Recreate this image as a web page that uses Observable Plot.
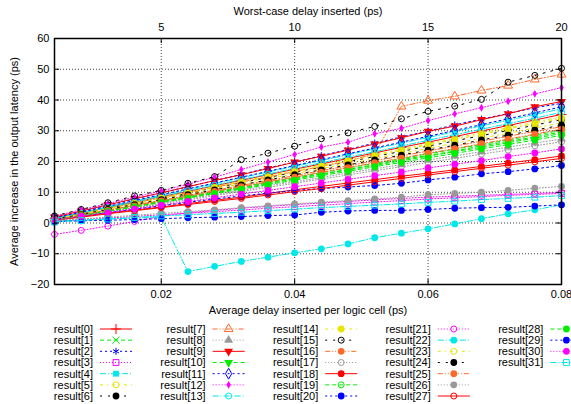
<!DOCTYPE html>
<html><head><meta charset="utf-8">
<script src="https://cdn.jsdelivr.net/npm/d3@7"></script>
<script src="https://cdn.jsdelivr.net/npm/@observablehq/plot@0.6"></script>
<style>
body{margin:0;background:#fff;font-family:"Liberation Sans",Arial,sans-serif;}
#chart{position:relative;width:571px;height:404px;background:#fff;}
</style></head><body><div id="chart"></div>
<script>
const delayPerCell = [0.004,0.008,0.012,0.016,0.020,0.024,0.028,0.032,0.036,0.040,0.044,0.048,0.052,0.056,0.060,0.064,0.068,0.072,0.076,0.080];
const result0 = [1.4,3.2,5.0,6.8,8.6,10.3,12.1,13.9,15.7,17.5,19.2,21.0,22.8,24.6,26.3,28.1,29.9,31.7,33.5,35.3];
const result1 = [1.1,2.6,4.1,5.7,7.2,8.7,10.2,11.8,13.3,14.8,16.4,17.9,19.4,20.9,22.5,24.0,25.5,27.0,28.6,30.1];
const result2 = [1.8,3.8,5.8,7.8,9.8,11.8,13.8,15.8,17.9,19.8,21.9,23.9,26.0,28.0,29.9,31.9,33.8,35.6,37.5,38.9];
const result3 = [0.5,1.1,1.6,2.1,2.7,3.2,3.7,4.2,4.8,5.3,5.8,6.3,6.8,7.3,7.8,8.2,8.6,9.0,9.3,9.6];
const result4 = [1.5,3.4,5.3,7.2,9.0,10.9,12.8,14.7,16.6,18.4,20.3,22.2,24.1,26.0,27.8,29.7,31.6,33.4,35.3,37.1];
const result5 = [1.3,3.0,4.8,6.5,8.3,10.0,11.8,13.5,15.3,17.0,18.8,20.5,22.3,24.0,25.8,27.5,29.3,31.0,32.8,34.5];
const result6 = [1.3,3.0,4.7,6.4,8.0,9.7,11.4,13.1,14.8,16.5,18.2,19.9,21.6,23.3,25.0,26.7,28.4,30.1,31.8,33.6];
const result7 = [1.4,3.1,4.8,6.5,8.2,9.9,11.6,13.3,15.0,16.7,18.4,20.1,22.5,37.9,39.8,41.2,43.1,44.7,46.7,48.3];
const result8 = [0.8,2.2,3.7,5.0,6.4,7.9,9.2,10.6,12.1,13.4,14.8,16.3,17.6,19.0,20.5,21.8,23.2,24.7,26.0,27.3];
const result9 = [1.9,3.9,5.9,7.9,9.8,11.8,13.8,15.7,17.7,19.8,21.7,23.7,25.7,27.7,29.8,31.5,33.6,35.5,37.8,39.5];
const result10 = [1.0,2.5,4.1,5.5,7.0,8.4,10.0,11.5,13.1,14.5,16.0,17.4,19.0,20.6,22.0,23.4,25.1,26.5,28.0,29.6];
const result11 = [1.6,3.5,5.4,7.3,9.2,11.1,13.0,14.9,16.8,18.7,20.6,22.5,24.4,26.3,28.2,30.1,32.0,33.9,35.8,37.8];
const result12 = [2.2,4.3,6.3,8.4,10.4,12.6,14.9,17.4,19.8,22.3,24.7,26.3,29.0,30.8,33.3,35.5,37.5,39.6,42.0,44.0];
const result13 = [1.4,3.2,5.0,6.8,8.7,10.5,12.3,14.1,15.9,17.8,19.6,21.4,23.2,25.0,26.9,28.7,30.5,32.3,34.1,36.0];
const result14 = [1.2,2.9,4.7,6.4,8.1,9.8,11.6,13.3,15.0,16.7,18.5,20.2,21.9,23.6,25.4,27.1,28.8,30.6,32.3,34.0];
const result15 = [2.3,4.4,6.6,8.8,10.6,12.9,15.1,20.6,22.7,25.0,27.4,29.3,31.4,33.9,36.3,38.0,40.2,45.8,48.0,50.3];
const result16 = [1.0,2.6,4.2,5.8,7.4,9.0,10.6,12.2,13.8,15.4,17.0,18.6,20.2,21.8,23.4,25.0,26.6,28.2,29.8,31.3];
const result17 = [0.8,2.1,3.5,4.8,6.2,7.5,8.9,10.2,11.6,12.9,14.3,15.6,17.0,18.3,19.7,21.0,22.4,23.7,25.1,26.4];
const result18 = [1.0,2.1,3.2,4.2,5.2,6.3,7.4,8.4,9.6,10.8,11.9,13.0,14.1,15.2,16.2,17.3,18.4,19.5,20.6,21.8];
const result19 = [0.9,2.4,3.9,5.4,6.9,8.3,9.8,11.3,12.8,14.3,15.8,17.2,18.7,20.2,21.7,23.2,24.6,26.1,27.6,29.1];
const result20 = [1.2,2.3,3.4,4.5,5.6,6.7,7.8,8.8,9.7,10.6,11.2,11.7,12.2,12.9,14.0,14.9,16.0,16.7,17.6,18.7];
const result21 = [-3.7,-2.4,-1.0,0.5,2.2,3.3,4.1,4.8,5.4,6.0,6.5,7.0,7.5,8.0,8.4,8.7,9.0,9.3,9.6,9.9];
const result22 = [0.6,1.0,1.3,1.6,1.9,-15.8,-14.1,-12.5,-11.1,-9.7,-8.4,-6.8,-4.8,-3.3,-1.9,-0.3,1.4,3.0,4.3,5.9];
const result23 = [1.2,2.8,4.5,6.1,7.8,9.4,11.1,12.7,14.4,16.0,17.7,19.3,21.0,22.6,24.3,25.9,27.6,29.2,30.9,32.6];
const result24 = [1.1,2.7,4.4,6.0,7.6,9.2,10.8,12.4,14.0,15.7,17.3,18.9,20.5,22.1,23.7,25.3,27.0,28.6,30.2,31.8];
const result25 = [1.0,2.5,4.1,5.6,7.2,8.7,10.3,11.8,13.4,14.9,16.5,18.0,19.6,21.1,22.7,24.2,25.8,27.3,28.9,30.5];
const result26 = [0.7,1.3,1.9,2.5,3.1,3.7,4.3,5.0,5.6,6.2,6.8,7.3,7.8,8.4,9.2,9.6,10.0,10.6,11.3,11.9];
const result27 = [0.9,1.9,3.0,4.0,5.0,6.0,7.0,8.0,9.1,10.2,11.2,12.3,13.4,14.5,15.6,16.7,17.8,18.8,19.9,21.0];
const result28 = [0.9,2.3,3.8,5.2,6.7,8.1,9.6,11.0,12.5,13.9,15.4,16.8,18.3,19.7,21.2,22.6,24.1,25.5,27.0,28.5];
const result29 = [0.5,0.7,0.9,1.1,1.4,1.7,1.9,2.1,2.4,2.6,3.5,3.9,4.1,4.1,4.4,4.8,5.0,5.1,5.5,5.9];
const result30 = [1.0,2.2,3.4,4.6,5.8,7.0,8.2,9.4,10.6,11.8,13.0,14.2,15.4,16.6,17.9,19.1,20.3,21.6,22.8,24.1];
const result31 = [0.3,0.8,1.3,1.8,2.3,2.7,3.1,3.5,4.0,4.5,5.0,5.4,5.8,6.2,6.7,7.1,7.6,8.0,8.4,8.9];

const xTicks = [0.02, 0.04, 0.06, 0.08];
const worstCaseTicks = [5, 10, 15, 20];
const yTicks = [-20, -10, 0, 10, 20, 30, 40, 50, 60];
const xLabel = "Average delay inserted per logic cell (ps)";
const x2Label = "Worst-case delay inserted (ps)";
const yLabel = "Average increase in the output latency (ps)";

const series = [result0,result1,result2,result3,result4,result5,result6,result7,result8,result9,result10,result11,result12,result13,result14,result15,result16,result17,result18,result19,result20,result21,result22,result23,result24,result25,result26,result27,result28,result29,result30,result31];
const names = series.map((_, i) => `result[${i}]`);

// styles (gnuplot cycle of 9)
const palette = ["#ff0000","#00ee00","#0000ff","#ff00ff","#00e8e8","#e6e600","#000000","#ff6a2a","#999999"];
const dashes = [null,"4,3","2,3","1,2","6,2,1,2","3,4,1,4","2,6","5,2,1,2,1,2","1,2"];
const markerSymbol = ["plus","times","asterisk","square","square","circle","circle","triangle","triangle","triangle","triangle","diamond","diamond","circle","circle","circle","circle","circle","circle","circle","circle","circle","circle","circle","circle","circle","circle","circle","circle","circle","circle","square"];
const markerFilled = [0,0,0,0,1,0,1,0,1,1,1,0,1,0,1,0,1,0,1,0,1,0,1,0,1,1,1,0,1,1,1,0];
const markerRotate = series.map((_, i) => (i === 9 || i === 10) ? 180 : 0);
const markerR = series.map((_, i) => markerSymbol[i] === "circle" ? (markerFilled[i] ? 3.4 : 3) : (i === 12 ? 2.4 : 3.3));

const font = '"Liberation Sans", Arial, sans-serif';
const W = 571, H = 318, mL = 54, mR = 10, mT = 38, mB = 34;
const frameH = H - mT - mB, tickLen = 5;

const lineMarks = [], dotMarks = [];
series.forEach((vals, i) => {
  const rows = delayPerCell.map((x, j) => ({x, y: vals[j]}));
  const color = palette[i % 9];
  const dash = dashes[i % 9];
  const lopts = {x: "x", y: "y", stroke: color, strokeWidth: 1};
  if (dash) lopts.strokeDasharray = dash;
  lineMarks.push(Plot.line(rows, lopts));
  const dopts = {x: "x", y: "y", symbol: markerSymbol[i], r: markerR[i], rotate: markerRotate[i]};
  if (markerFilled[i]) { dopts.fill = color; dopts.stroke = "none"; }
  else { dopts.fill = "none"; dopts.stroke = color; dopts.strokeWidth = 1; }
  dotMarks.push(Plot.dot(rows, dopts));
});
const seriesMarks = [];
lineMarks.forEach((m, i) => { seriesMarks.push(m, dotMarks[i]); });

const plot = Plot.plot({
  width: W, height: H,
  marginLeft: mL, marginRight: mR, marginTop: mT, marginBottom: mB,
  style: {fontFamily: font, fontSize: "11px", background: "white", color: "black", overflow: "visible"},
  x: {domain: [0.004, 0.08]},
  y: {domain: [-20, 60]},
  marks: [
    Plot.gridX(xTicks, {stroke: "#000", strokeOpacity: 0.75, strokeDasharray: "1,2"}),
    Plot.gridY(yTicks, {stroke: "#000", strokeOpacity: 0.75, strokeDasharray: "1,2"}),
    ...seriesMarks,
    // inward ticks (gnuplot style)
    Plot.tickX(xTicks, {x: d => d, insetTop: frameH - tickLen, stroke: "#000"}),
    Plot.tickX(xTicks, {x: d => d, insetBottom: frameH - tickLen, stroke: "#000"}),
    Plot.tickY(yTicks, {y: d => d, insetRight: (W - mL - mR) - tickLen, stroke: "#000"}),
    Plot.tickY(yTicks, {y: d => d, insetLeft: (W - mL - mR) - tickLen, stroke: "#000"}),
    Plot.frame({stroke: "#000", strokeWidth: 1.5}),
    Plot.axisX(xTicks, {anchor: "bottom", tickSize: 0, tickPadding: 6, tickFormat: d => d.toFixed(2), label: null}),
    Plot.axisX(xTicks, {anchor: "top", tickSize: 0, tickPadding: 8, tickFormat: (d, i) => String(worstCaseTicks[i]), label: null}),
    Plot.axisY(yTicks, {anchor: "left", tickSize: 0, tickPadding: 5, label: null}),
    Plot.text([xLabel], {frameAnchor: "bottom", dy: 29, text: d => d, fontSize: 11}),
    Plot.text([x2Label], {frameAnchor: "top", dy: -31, text: d => d, fontSize: 11}),
    Plot.text([yLabel], {frameAnchor: "left", textAnchor: "middle", dx: -40, rotate: -90, text: d => d, fontSize: 11})
  ]
});
const chart = document.getElementById("chart");
chart.appendChild(plot);

// legend below the plot
const symbolMap = {plus: d3.symbolPlus, times: d3.symbolTimes, asterisk: d3.symbolAsterisk, square: d3.symbolSquare, circle: d3.symbolCircle, triangle: d3.symbolTriangle, diamond: d3.symbolDiamond};
const leg = d3.select(chart).append("svg")
  .attr("width", 571).attr("height", 86)
  .style("position", "absolute").style("left", "0px").style("top", H + "px")
  .style("font-family", font).style("font-size", "11px");
series.forEach((_, i) => {
  const c = Math.floor(i / 7), r = i % 7;
  const tx = 93 + c * 112.6, ty = 11 + r * 11.17;
  const color = palette[i % 9], dash = dashes[i % 9];
  leg.append("text").attr("x", tx).attr("y", ty).attr("dy", "0.35em").attr("text-anchor", "end").attr("fill", "#000").text(names[i]);
  const ln = leg.append("line").attr("x1", tx + 7).attr("x2", tx + 39).attr("y1", ty).attr("y2", ty).attr("stroke", color).attr("stroke-width", 1);
  if (dash) ln.attr("stroke-dasharray", dash);
  const rr = markerR[i];
  const p = leg.append("path")
    .attr("transform", `translate(${tx + 23},${ty}) rotate(${markerRotate[i]})`)
    .attr("d", d3.symbol(symbolMap[markerSymbol[i]], Math.PI * rr * rr)());
  if (markerFilled[i]) p.attr("fill", color).attr("stroke", "none");
  else p.attr("fill", "none").attr("stroke", color).attr("stroke-width", 1);
});
</script>
</body></html>
